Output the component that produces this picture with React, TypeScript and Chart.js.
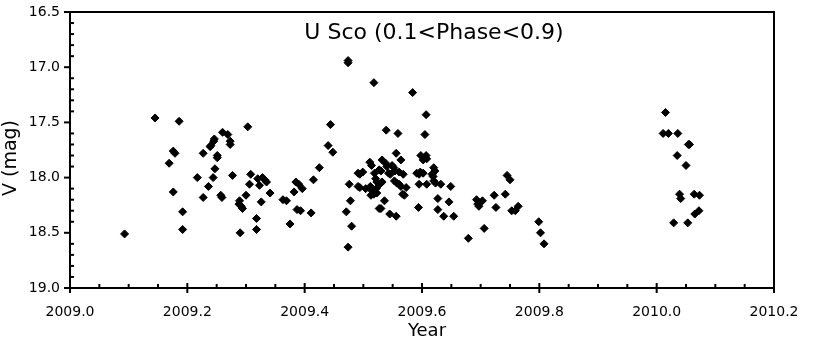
import React, { useEffect, useRef } from "react";
import { Chart, registerables } from "chart.js";

Chart.register(...registerables);

const springYears = [2009.093,2009.145,2009.169,2009.176,2009.179,2009.176,2009.186,2009.192,2009.192,2009.217,2009.227,2009.227,2009.236,2009.239,2009.240,2009.244,2009.245,2009.246,2009.247,2009.251,2009.251,2009.257,2009.259,2009.260,2009.269,2009.273,2009.273,2009.277,2009.288,2009.289,2009.290,2009.292,2009.294,2009.300,2009.303,2009.306,2009.308,2009.318,2009.318,2009.320,2009.323,2009.326,2009.328,2009.332,2009.335,2009.341,2009.363,2009.369,2009.375,2009.382,2009.385,2009.387,2009.390,2009.393,2009.396,2009.411,2009.415,2009.425,2009.440,2009.444,2009.448];
const springMags = [18.51,17.46,17.87,17.76,17.78,18.13,17.49,18.31,18.47,18.00,17.78,18.18,18.08,17.72,17.71,18.00,17.67,17.65,17.92,17.80,17.82,18.16,18.18,17.59,17.61,17.67,17.70,17.98,18.24,18.21,18.50,18.26,18.28,18.16,17.54,18.06,17.97,18.37,18.47,18.01,18.07,18.22,18.00,18.02,18.04,18.14,18.20,18.21,18.42,18.13,18.04,18.29,18.06,18.30,18.10,18.32,18.02,17.91,17.71,17.52,17.77];

const summerYears = [2009.471,2009.474,2009.474,2009.474,2009.476,2009.478,2009.480,2009.491,2009.491,2009.494,2009.494,2009.499,2009.504,2009.511,2009.512,2009.513,2009.514,2009.515,2009.518,2009.518,2009.519,2009.521,2009.522,2009.523,2009.523,2009.527,2009.527,2009.528,2009.530,2009.530,2009.532,2009.532,2009.536,2009.538,2009.539,2009.540,2009.543,2009.545,2009.546,2009.549,2009.552,2009.553,2009.554,2009.556,2009.556,2009.557,2009.559,2009.561,2009.561,2009.564,2009.564,2009.567,2009.568,2009.570,2009.573,2009.584,2009.591,2009.594,2009.595,2009.595,2009.597,2009.598,2009.602,2009.602,2009.605,2009.607,2009.607,2009.608,2009.608,2009.617,2009.619,2009.620,2009.620,2009.622,2009.623,2009.627,2009.627,2009.632,2009.637,2009.646,2009.649,2009.654,2009.679,2009.693,2009.695,2009.697,2009.703,2009.706,2009.723,2009.726,2009.742,2009.745,2009.750,2009.753,2009.759,2009.764,2009.799,2009.802,2009.808];
const summerMags = [18.31,16.94,16.96,18.63,18.06,18.21,18.44,17.96,18.08,17.97,18.09,17.95,18.10,17.86,18.08,18.16,17.89,18.12,17.14,18.15,17.96,18.01,18.10,18.04,18.14,17.93,18.28,18.06,17.94,18.28,17.84,18.04,18.21,17.87,17.57,17.90,17.96,18.33,17.97,17.89,17.91,18.03,17.94,17.78,18.35,18.05,17.60,17.95,18.06,17.84,18.08,18.15,17.97,18.16,18.09,17.23,17.96,18.27,17.97,18.06,17.95,17.80,17.96,17.84,17.61,17.80,17.43,17.83,18.06,17.97,17.99,17.91,18.03,17.94,18.05,18.19,18.29,18.06,18.35,18.22,18.08,18.35,18.55,18.20,18.24,18.26,18.21,18.46,18.16,18.27,18.15,17.98,18.02,18.30,18.30,18.26,18.40,18.50,18.60];

const season2010Years = [2010.011,2010.015,2010.020,2010.029,2010.035,2010.036,2010.039,2010.041,2010.050,2010.053,2010.054,2010.056,2010.064,2010.065,2010.072,2010.073];
const season2010Mags = [17.60,17.41,17.60,18.41,17.80,17.60,18.15,18.19,17.89,18.41,17.70,17.70,18.15,18.33,18.30,18.16];

const allYears = [...springYears, ...summerYears, ...season2010Years];
const allMags = [...springMags, ...summerMags, ...season2010Mags];

const xMajorTicks = [2009.0, 2009.2, 2009.4, 2009.6, 2009.8, 2010.0, 2010.2];
const yMajorTicks = [16.5, 17.0, 17.5, 18.0, 18.5, 19.0];
const titleText = "U Sco (0.1<Phase<0.9)";
const xTitle = "Year";
const yTitle = "V (mag)";

const FONT = "'DejaVu Sans', Verdana, sans-serif";

const framePlugin = {
  id: "frameAndTicks",
  afterDraw(chart: any) {
    const { ctx, chartArea: a, scales } = chart;
    const xs = scales.x;
    const ys = scales.y;
    ctx.save();
    ctx.strokeStyle = "#000";
    ctx.lineWidth = 2;
    ctx.strokeRect(a.left, a.top, a.right - a.left, a.bottom - a.top);

    const line = (x1: number, y1: number, x2: number, y2: number) => {
      ctx.beginPath();
      ctx.moveTo(x1, y1);
      ctx.lineTo(x2, y2);
      ctx.stroke();
    };

    ctx.lineWidth = 2;
    xMajorTicks.forEach((v) => {
      const px = xs.getPixelForValue(v);
      line(px, a.bottom - 5, px, a.bottom + 5);
    });
    for (let i = 0; i <= 24; i++) {
      if (i % 4 === 0) continue;
      const px = xs.getPixelForValue(2009 + i * 0.05);
      line(px, a.bottom, px, a.bottom - 4);
    }
    yMajorTicks.forEach((v) => {
      const py = ys.getPixelForValue(v);
      line(a.left - 6, py, a.left + 1, py);
    });
    for (let i = 0; i <= 25; i++) {
      if (i % 5 === 0) continue;
      const py = ys.getPixelForValue(16.5 + i * 0.1);
      line(a.left, py, a.left + 4, py);
    }

    ctx.fillStyle = "#000";
    ctx.font = `22px ${FONT}`;
    ctx.textAlign = "center";
    ctx.textBaseline = "alphabetic";
    ctx.fillText(titleText, 434, 39);

    ctx.font = `18px ${FONT}`;
    ctx.fillText(xTitle, 427, 336);

    ctx.font = `19px ${FONT}`;
    ctx.translate(16, 158);
    ctx.rotate(-Math.PI / 2);
    ctx.fillText(yTitle, 0, 0);
    ctx.restore();
  },
};

export default function App() {
  const ref = useRef<HTMLCanvasElement | null>(null);

  useEffect(() => {
    if (!ref.current) return;
    const points = allYears.map((x, i) => ({ x, y: allMags[i] }));
    const chart = new Chart(ref.current, {
      type: "scatter",
      data: {
        datasets: [
          {
            label: "U Sco",
            data: points,
            pointStyle: "rectRot",
            pointRadius: 4,
            backgroundColor: "#000",
            borderColor: "#000",
            borderWidth: 1,
          },
        ],
      },
      options: {
        responsive: false,
        animation: false,
        devicePixelRatio: 1,
        layout: { padding: { left: 0, right: 56, top: 12, bottom: 0 } },
        plugins: {
          legend: { display: false },
          tooltip: { enabled: false },
          title: { display: false },
        },
        scales: {
          x: {
            type: "linear",
            min: 2009.0,
            max: 2010.2,
            afterFit: (s: any) => {
              s.height = 57;
              s.paddingLeft = 0;
              s.paddingRight = 0;
            },
            afterBuildTicks: (s: any) => {
              s.ticks = xMajorTicks.map((v) => ({ value: v }));
            },
            ticks: {
              callback: (v: any) => Number(v).toFixed(1),
              font: { family: FONT, size: 14 },
              color: "#000",
              padding: 16,
              maxRotation: 0,
              autoSkip: false,
            },
            grid: { display: false, drawTicks: false },
            border: { display: false },
          },
          y: {
            type: "linear",
            reverse: true,
            min: 16.5,
            max: 19.0,
            afterFit: (s: any) => {
              s.width = 70;
              s.paddingTop = 0;
              s.paddingBottom = 0;
            },
            afterBuildTicks: (s: any) => {
              s.ticks = yMajorTicks.map((v) => ({ value: v }));
            },
            ticks: {
              callback: (v: any) => Number(v).toFixed(1),
              font: { family: FONT, size: 14 },
              color: "#000",
              padding: 10,
              autoSkip: false,
            },
            grid: { display: false, drawTicks: false },
            border: { display: false },
          },
        },
      },
      plugins: [framePlugin],
    });
    return () => chart.destroy();
  }, []);

  return (
    <div style={{ position: "fixed", left: 0, top: 0, width: 830, height: 345, background: "#fff" }}>
      <canvas ref={ref} width={830} height={345} style={{ width: 830, height: 345 }} />
    </div>
  );
}
